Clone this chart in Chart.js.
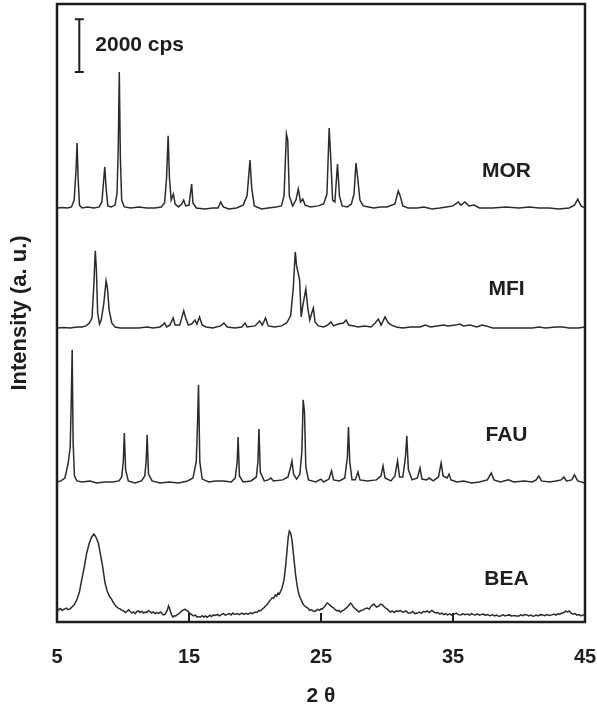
<!DOCTYPE html>
<html>
<head>
<meta charset="utf-8">
<script src="https://cdn.jsdelivr.net/npm/chart.js@4.4.1/dist/chart.umd.min.js"></script>
<style>
  html, body { margin: 0; padding: 0; background: #fff; }
  #wrap { width: 597px; height: 707px; }
</style>
</head>
<body>
<div id="wrap"><canvas id="xrd"></canvas></div>
<script>
// 2 theta tick labels
const xTicks = [5, 15, 25, 35, 45];
const sampleNames = ['MOR', 'MFI', 'FAU', 'BEA'];
// vertical stacking offset of each pattern (cps)
const offsets = [15730, 11170, 5320, 380];
const scaleBarCps = 2000;

// MOR
const morX = [5.0,5.4,5.8,6.1,6.3,6.45,6.52,6.6,6.7,6.9,7.3,7.8,8.2,8.4,8.55,8.62,8.72,8.85,9.1,9.4,9.55,9.64,9.72,9.8,9.9,10.1,10.6,11.2,11.8,12.4,12.9,13.15,13.3,13.42,13.52,13.65,13.82,13.95,14.2,14.45,14.6,14.75,15.0,15.2,15.3,15.55,16.2,16.8,17.2,17.4,17.6,18.0,18.6,19.1,19.4,19.62,19.75,19.95,20.5,21.0,21.6,22.0,22.2,22.38,22.48,22.6,22.85,23.1,23.28,23.45,23.62,23.8,24.2,24.8,25.2,25.45,25.62,25.72,25.88,26.05,26.25,26.4,26.6,27.0,27.3,27.5,27.65,27.78,27.95,28.2,28.6,29.0,29.5,30.0,30.6,30.85,31.0,31.2,31.6,32.3,32.8,33.4,34.0,34.5,35.0,35.4,35.6,35.9,36.2,36.6,37.0,38.0,39.0,40.0,40.8,41.5,42.3,43.0,43.8,44.2,44.45,44.7,45.0];
const morY = [0,20,0,40,300,1520,2470,1140,110,0,40,0,40,230,1140,1560,760,80,40,110,570,2280,5170,1900,300,40,0,40,0,0,40,190,1140,2740,1140,300,530,150,40,150,300,80,110,910,190,0,-40,0,0,230,40,-40,0,110,460,1820,760,80,-40,0,40,80,460,2810,2580,460,80,300,720,230,340,110,40,80,150,530,3040,2090,300,230,1670,460,80,40,150,530,1710,1140,300,80,40,0,40,40,150,650,460,80,0,0,40,-40,0,40,80,230,110,230,80,110,0,0,40,0,40,0,0,-40,0,110,340,80,0];

// MFI
const mfiX = [5.0,5.5,6.0,6.5,6.9,7.2,7.45,7.65,7.78,7.9,7.98,8.08,8.22,8.35,8.55,8.72,8.82,8.95,9.15,9.4,9.8,10.5,11.2,11.8,12.3,12.8,13.0,13.15,13.3,13.55,13.8,13.95,14.3,14.6,14.75,14.95,15.2,15.45,15.6,15.8,16.0,16.3,16.8,17.4,17.65,17.9,18.5,19.0,19.25,19.4,20.0,20.35,20.55,20.8,21.0,21.5,22.0,22.4,22.7,22.9,23.05,23.15,23.25,23.38,23.5,23.62,23.85,24.0,24.15,24.3,24.42,24.55,24.8,25.2,25.5,25.75,25.95,26.3,26.7,26.9,27.1,27.5,27.8,28.3,28.8,29.1,29.35,29.55,29.85,30.1,30.35,30.7,31.2,31.8,32.5,32.9,33.3,33.8,34.3,34.6,35.2,35.5,35.8,36.3,36.8,37.2,37.5,38.0,39.0,40.0,41.0,41.5,42.0,42.8,43.3,43.8,44.5,45.0];
const mfiY = [0,20,0,40,40,80,190,380,1520,2930,2280,570,150,300,950,1790,1520,680,190,40,0,0,0,40,0,40,110,190,40,110,380,110,110,650,380,110,150,300,150,420,110,40,0,80,190,40,0,40,190,40,80,270,110,380,80,40,80,190,460,1520,2890,2360,2130,1820,420,840,1480,760,300,570,760,230,80,40,110,230,80,150,190,300,110,80,40,80,40,190,340,110,420,190,110,40,0,40,40,110,40,80,110,80,110,150,80,110,40,110,80,0,0,0,0,40,0,40,40,0,0,40];

// FAU
const fauX = [5.0,5.3,5.6,5.85,6.0,6.08,6.15,6.22,6.32,6.5,6.9,7.5,8.0,8.6,9.2,9.7,9.9,10.02,10.1,10.2,10.4,10.9,11.4,11.65,11.75,11.83,11.93,12.2,12.8,13.5,14.2,14.9,15.3,15.55,15.65,15.72,15.82,16.0,16.5,17.0,17.6,18.2,18.5,18.65,18.72,18.82,19.1,19.7,20.1,20.22,20.3,20.4,20.7,21.0,21.2,21.4,22.1,22.5,22.7,22.8,22.92,23.15,23.4,23.55,23.65,23.75,23.85,24.05,24.6,25.0,25.2,25.6,25.8,25.95,26.4,26.8,27.0,27.08,27.18,27.35,27.6,27.8,27.95,28.5,29.2,29.55,29.7,29.85,30.3,30.6,30.8,30.95,31.2,31.4,31.5,31.62,31.9,32.3,32.5,32.65,33.0,33.2,33.5,33.9,34.1,34.25,34.55,34.7,34.85,35.3,35.8,36.4,37.0,37.6,37.9,38.1,38.6,39.2,39.6,40.4,41.0,41.3,41.5,41.7,42.3,42.8,43.2,43.4,43.6,44.0,44.2,44.45,45.0];
const fauY = [0,40,150,720,1330,3040,5020,1520,230,40,0,40,-40,0,0,40,190,760,1860,460,40,-40,40,230,760,1790,300,40,-40,0,-40,40,150,760,2280,3690,760,110,0,40,40,0,150,760,1710,230,0,40,190,760,2010,380,40,80,150,40,80,190,570,800,300,110,300,1140,3120,2660,570,80,0,110,0,110,420,80,40,150,950,2090,760,80,80,380,80,40,80,230,610,150,40,230,800,190,190,950,1750,460,80,150,530,110,80,150,40,190,720,230,150,300,80,0,40,-40,0,80,340,80,0,80,0,40,0,80,230,40,0,40,80,190,40,80,270,40,-40];

// BEA (noisy broad-peak pattern)
const beaX = [
  5.0,5.12,5.25,5.4,5.55,5.7,5.85,6.0,6.15,6.3,6.5,6.7,6.87,7.05,7.25,7.45,7.63,7.8,7.95,8.13,
  8.3,8.45,8.64,8.8,9.0,9.12,9.25,9.4,9.53,9.67,9.8,9.92,10.05,10.18,10.3,10.43,10.55,10.68,10.8,10.93,
  11.05,11.18,11.3,11.43,11.55,11.68,11.8,11.93,12.05,12.18,12.3,12.43,12.57,12.7,12.85,12.95,13.05,13.2,13.35,13.45,
  13.52,13.6,13.7,13.78,13.9,14.0,14.1,14.2,14.33,14.45,14.58,14.7,14.8,14.9,15.04,15.2,15.35,15.5,15.6,15.7,
  15.85,16.0,16.12,16.25,16.36,16.5,16.6,16.7,16.85,17.0,17.15,17.3,17.45,17.6,17.75,17.9,18.05,18.2,18.3,18.45,
  18.64,18.8,19.0,19.15,19.3,19.48,19.65,19.8,20.0,20.15,20.3,20.4,20.55,20.7,20.8,20.95,21.05,21.17,21.3,21.4,
  21.55,21.65,21.75,21.85,21.95,22.05,22.2,22.33,22.43,22.52,22.6,22.7,22.8,22.92,23.06,23.18,23.3,23.4,23.5,23.6,
  23.7,23.85,24.0,24.15,24.3,24.45,24.6,24.75,24.9,25.0,25.1,25.2,25.3,25.4,25.47,25.55,25.65,25.8,25.97,26.1,
  26.23,26.35,26.48,26.6,26.75,26.88,27.0,27.12,27.24,27.35,27.45,27.6,27.75,27.87,28.0,28.2,28.35,28.5,28.65,28.8,
  28.9,29.0,29.1,29.2,29.3,29.4,29.5,29.65,29.78,29.9,30.05,30.15,30.28,30.4,30.55,30.7,30.85,31.0,31.15,31.28,
  31.45,31.6,31.8,31.95,32.1,32.3,32.45,32.6,32.75,32.9,33.05,33.2,33.4,33.56,33.7,33.85,34.0,34.15,34.3,34.45,
  34.58,34.75,34.9,35.1,35.25,35.4,35.6,35.75,35.9,36.1,36.25,36.4,36.55,36.7,36.85,37.0,37.15,37.3,37.45,37.6,
  37.8,38.0,38.15,38.3,38.45,38.6,38.8,38.95,39.1,39.3,39.45,39.6,39.8,40.0,40.15,40.3,40.45,40.6,40.75,40.9,
  41.05,41.15,41.3,41.45,41.6,41.8,41.95,42.1,42.3,42.5,42.65,42.8,42.95,43.1,43.25,43.4,43.55,43.69,43.8,43.95,
  44.1,44.25,44.4,44.55,44.7,44.85,45.0
];
const beaY = [
  150,80,130,60,110,150,90,120,200,270,460,760,1220,1670,2240,2620,2850,2960,2850,2620,
  2170,1750,1100,800,570,500,380,260,190,140,110,60,40,-20,20,80,20,-40,0,-60,
  20,40,-20,30,-40,0,-20,50,10,-40,0,-60,-20,-50,0,-60,-110,-80,60,230,
  150,0,-120,-190,-140,-150,-100,-80,-20,40,80,110,60,40,-40,-100,-150,-120,-190,-170,
  -200,-140,-190,-150,-200,-160,-120,-170,-110,-130,-90,-150,-100,-60,-120,-90,-60,-110,-40,-90,
  -60,-100,-40,-90,-50,-80,-30,-60,0,-20,60,40,110,170,230,300,380,460,540,520,
  650,610,720,690,800,910,1220,1790,2360,2850,3080,3000,2740,2170,1480,1030,720,560,460,330,
  270,190,150,60,80,20,40,100,60,120,110,170,230,300,340,320,270,200,150,80,
  40,60,0,40,80,140,190,260,340,280,190,120,60,0,50,80,130,150,110,230,
  260,300,250,190,210,230,300,270,200,150,100,40,0,40,-20,40,20,60,0,0,
  40,-40,-40,20,-60,-40,0,-50,20,0,40,-20,60,0,-40,-20,-80,-40,-100,-60,
  -110,-70,-120,-80,-40,-100,-110,-60,-100,-80,-120,-60,-100,-110,-70,-120,-90,-80,-130,-100,
  -140,-110,-150,-120,-160,-150,-110,-150,-120,-110,-160,-130,-150,-150,-110,-140,-100,-110,-150,-120,
  -160,-150,-120,-150,-100,-110,-140,-100,-130,-110,-80,-120,-70,-80,-40,-20,30,0,40,-40,
  -80,-60,-120,-100,-150,-110,-110
];

const seriesX = [morX, mfiX, fauX, beaX];
const seriesY = [morY, mfiY, fauY, beaY];

const font = 'Liberation Sans, Arial, Helvetica, sans-serif';
const ink = '#1e1e1e';

const datasets = sampleNames.map((name, i) => ({
  label: name,
  data: seriesX[i].map((x, k) => ({ x: x, y: seriesY[i][k] + offsets[i] })),
  borderColor: '#2b2b2b',
  borderWidth: 1.5,
  pointRadius: 0,
  tension: 0,
  fill: false
}));

// frame, inward ticks, scale bar and pattern names
const decorations = {
  id: 'decorations',
  afterDraw(chart) {
    const { ctx, chartArea: a, scales: { x, y } } = chart;
    ctx.save();
    ctx.strokeStyle = ink;
    ctx.lineWidth = 2.5;
    ctx.strokeRect(a.left, a.top, a.right - a.left, a.bottom - a.top);

    ctx.lineWidth = 2;
    xTicks.slice(1, -1).forEach(v => {
      const px = x.getPixelForValue(v);
      ctx.beginPath();
      ctx.moveTo(px, a.bottom);
      ctx.lineTo(px, a.bottom - 9);
      ctx.stroke();
    });

    // 2000 cps scale bar
    const bx = x.getPixelForValue(6.69);
    const yb = y.getPixelForValue(20900);
    const yt = y.getPixelForValue(20900 + scaleBarCps);
    ctx.lineWidth = 2;
    ctx.beginPath();
    ctx.moveTo(bx, yt); ctx.lineTo(bx, yb);
    ctx.moveTo(bx - 4.5, yt); ctx.lineTo(bx + 4.5, yt);
    ctx.moveTo(bx - 4.5, yb); ctx.lineTo(bx + 4.5, yb);
    ctx.stroke();
    ctx.fillStyle = ink;
    ctx.font = 'bold 21px ' + font;
    ctx.textAlign = 'left';
    ctx.textBaseline = 'middle';
    ctx.fillText(scaleBarCps + ' cps', bx + 16, (yt + yb) / 2);

    // sample names
    const nameLift = [37, 38.5, 47, 32.5];
    ctx.textAlign = 'center';
    sampleNames.forEach((name, i) => {
      const px = x.getPixelForValue(39.05);
      const py = y.getPixelForValue(offsets[i]) - nameLift[i];
      ctx.fillText(name, px, py);
    });
    ctx.restore();
  }
};

new Chart(document.getElementById('xrd'), {
  type: 'line',
  data: { datasets: datasets },
  options: {
    responsive: true,
    maintainAspectRatio: false,
    animation: false,
    layout: { padding: { top: 4, right: 12, left: 0, bottom: 0 } },
    plugins: { legend: { display: false }, tooltip: { enabled: false } },
    scales: {
      x: {
        type: 'linear',
        min: 5,
        max: 45,
        afterBuildTicks: s => { s.ticks = xTicks.map(v => ({ value: v })); },
        afterFit: s => { s.height = 85; s.paddingLeft = 0; s.paddingRight = 0; },
        grid: { display: false },
        border: { display: false },
        ticks: {
          color: ink,
          padding: 17,
          maxRotation: 0,
          font: { family: font, size: 20, weight: 'bold', lineHeight: 1 }
        },
        title: {
          display: true,
          text: '2 θ',
          color: ink,
          padding: { top: 0, bottom: 0 },
          font: { family: font, size: 21, weight: 'bold', lineHeight: 1 }
        }
      },
      y: {
        min: 0,
        max: 23480,
        afterFit: s => { s.width = 57; s.paddingTop = 0; s.paddingBottom = 0; },
        grid: { display: false },
        border: { display: false },
        ticks: { display: false },
        title: {
          display: true,
          text: 'Intensity (a. u.)',
          color: ink,
          padding: { top: 7, bottom: 0 },
          font: { family: font, size: 22, weight: 'bold' }
        }
      }
    }
  },
  plugins: [decorations]
});
</script>
</body>
</html>
